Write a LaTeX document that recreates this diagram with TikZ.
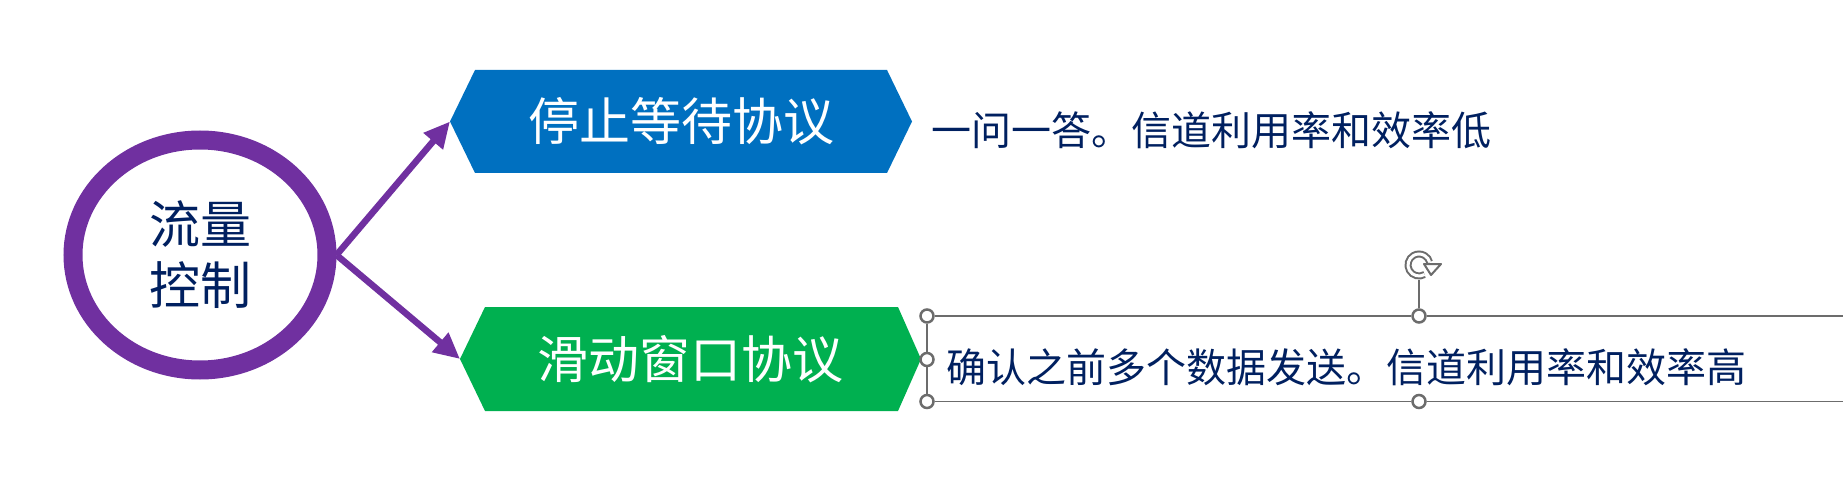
\documentclass[tikz,border=0pt]{standalone}
\usepackage{fontspec}
\newfontfamily\cjk{Noto Sans CJK SC}
\usetikzlibrary{arrows.meta,shapes.geometric,backgrounds,calc}
\definecolor{purp}{HTML}{7030A0}
\definecolor{hexblue}{HTML}{0070C0}
\definecolor{hexgreen}{HTML}{00B050}
\definecolor{navy}{HTML}{002060}
\definecolor{selgray}{RGB}{108,108,108}
\pgfdeclarelayer{paper}
\pgfsetlayers{paper,background,main}
\begin{document}
\begin{tikzpicture}[x=1pt,y=-1pt,
  hexnode/.style={minimum width=#1, minimum height=103pt, inner sep=0pt, outer sep=0pt,
    text=white, font=\cjk\fontsize{51}{60}\selectfont},
  desc/.style={anchor=west, inner sep=0pt, text=navy, font=\cjk\fontsize{40}{48}\selectfont},
  conn/.style={draw=purp, line width=6.5pt, -{Triangle[length=26pt,width=24pt]}},
  handle/.style={circle, draw=selgray, fill=white, line width=2.5pt, minimum size=13pt, inner sep=0pt},
  selline/.style={draw=selgray, line width=1.5pt}]
\begin{pgfonlayer}{paper}
\fill[white] (0,0) rectangle (1843,486);
\end{pgfonlayer}
\useasboundingbox (0,0) rectangle (1843,486);

% central ellipse
\node[ellipse, draw=purp, line width=19pt, fill=white, minimum width=254pt, minimum height=230pt,
  inner sep=0pt, align=center, text=navy, font=\cjk\fontsize{51}{61}\selectfont] (fc) at (200,255) {流量\\控制};

% hexagon nodes
\node[hexnode=462pt] (stop) at (681,121.5) {停止等待协议};
\node[hexnode=461pt, minimum height=104pt] (slide) at (690.5,359) {滑动窗口协议};
\begin{pgfonlayer}{background}
\fill[hexblue] (stop.west) -- ($(stop.north west)+(25,0)$) -- ($(stop.north east)+(-25,0)$) -- (stop.east)
  -- ($(stop.south east)+(-25,0)$) -- ($(stop.south west)+(25,0)$) -- cycle;
\fill[hexgreen] (slide.west) -- ($(slide.north west)+(25,0)$) -- ($(slide.north east)+(-23,0)$) -- (slide.east)
  -- ($(slide.south east)+(-23,0)$) -- ($(slide.south west)+(25,0)$) -- cycle;
\end{pgfonlayer}

% connectors
\draw[conn] (fc.east) -- (stop.west);
\draw[conn] (fc.east) -- (slide.west);

% descriptions
\node[desc] (d1) at (931,130) {一问一答。信道利用率和效率低};
\node[desc] (d2) at (946,367) {确认之前多个数据发送。信道利用率和效率高};

% selection frame
\coordinate (tr) at (1843,316);
\coordinate (br) at (1843,401.5);
\coordinate (rot) at (1419,265);
\node[handle] (h1) at (927,316) {};
\node[handle] (h2) at (927,359.5) {};
\node[handle] (h3) at (927,401.5) {};
\node[handle] (h4) at (1419,316) {};
\node[handle] (h5) at (1419,401.5) {};
\draw[selline] (h1) -- (h2) -- (h3);
\draw[selline] (h1) -- (h4) -- (tr);
\draw[selline] (h3) -- (h5) -- (br);
\draw[selline] (h4) -- (1419,280);
% rotation icon
\draw[selgray, line width=2pt, double=white, double distance=3pt] ([shift={(60:11)}]rot) arc[start angle=60, end angle=345, radius=11];
\draw[selgray, line width=2pt, fill=white, line join=round] ($(rot)+(5,-1)$) -- ($(rot)+(22,-1)$) -- ($(rot)+(12,10)$) -- cycle;
\end{tikzpicture}
\end{document}
